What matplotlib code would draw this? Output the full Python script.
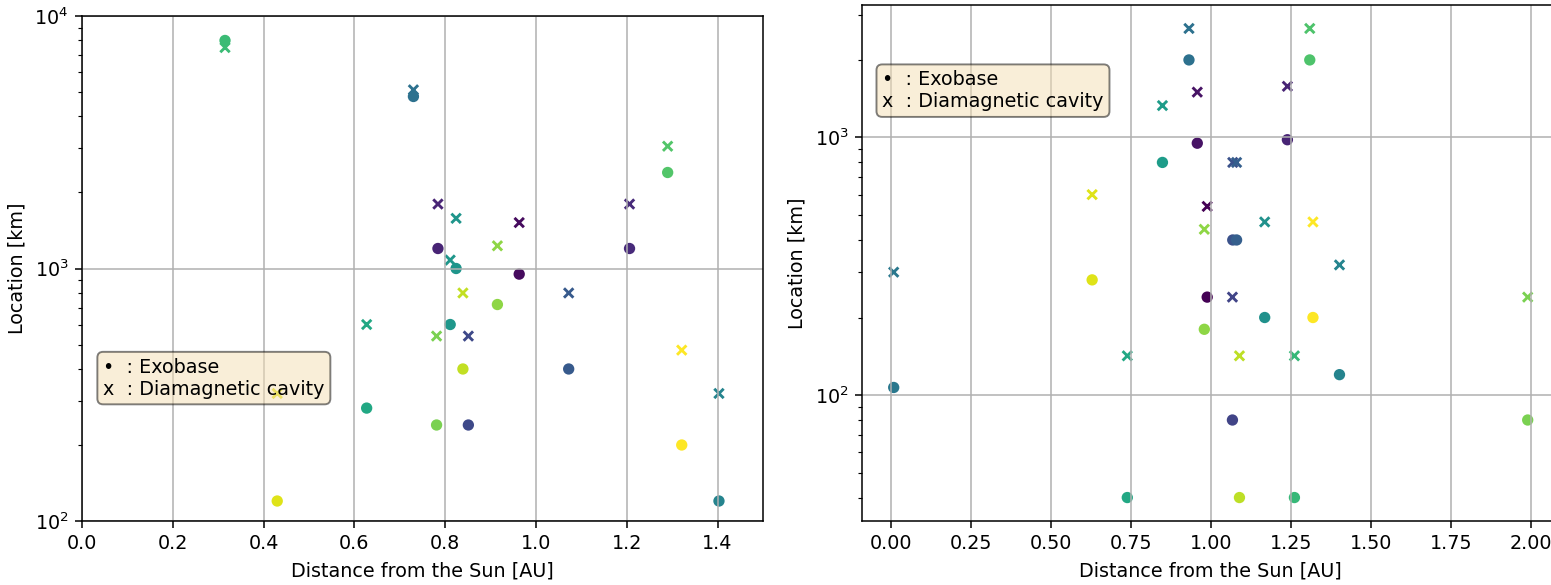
import numpy as np
import matplotlib
matplotlib.use('Agg')
import matplotlib.pyplot as plt

# Panel izquierdo: distancia al Sol [AU], exobase y cavidad diamagnetica [km]
dist_a = [0.315, 0.730, 1.290, 0.784, 1.206, 0.824, 0.963, 0.915, 0.811,
          0.839, 1.072, 0.627, 0.781, 0.851, 1.321, 0.430, 1.403]
exo_a = [8000, 4800, 2400, 1200, 1200, 1000, 950, 720, 600,
         400, 400, 280, 240, 240, 200, 120, 120]
dia_a = [7500, 5100, 3050, 1800, 1800, 1580, 1520, 1230, 1080,
         800, 800, 600, 540, 540, 475, 320, 320]
col_a = [0.68, 0.37, 0.73, 0.10, 0.12, 0.52, 0.03, 0.83, 0.53,
         0.91, 0.28, 0.60, 0.80, 0.22, 1.00, 0.95, 0.45]

# Panel derecho
dist_b = [0.931, 1.309, 0.957, 1.239, 0.848, 1.068, 1.080, 1.067, 0.628,
          0.988, 1.168, 1.319, 0.979, 1.402, 0.007, 0.738, 1.089, 1.261, 1.991]
exo_b = [2000, 2000, 950, 980, 800, 400, 400, 80, 280,
         240, 200, 200, 180, 120, 107, 40, 40, 40, 80]
dia_b = [2650, 2650, 1500, 1580, 1330, 800, 800, 240, 600,
         540, 470, 470, 440, 320, 300, 142, 142, 142, 240]
col_b = [0.37, 0.72, 0.05, 0.10, 0.55, 0.25, 0.30, 0.20, 0.95,
         0.00, 0.50, 1.00, 0.83, 0.45, 0.40, 0.60, 0.90, 0.67, 0.80]

leyenda = '•  : Exobase\nx  : Diamagnetic cavity'
props = dict(boxstyle='round', facecolor='wheat', alpha=0.5)

dpi = 138
W, H = 1551, 585
fig = plt.figure(figsize=(W/dpi, H/dpi), dpi=dpi)
ax1 = fig.add_axes([82/W, 1 - 521/H, 681/W, 505/H])
ax2 = fig.add_axes([862/W, 1 - 521/H, 697.4/W, 516/H])
tam = 24  # tamaño de marcador

# Izquierda
ax1.scatter(dist_a, dia_a, s=tam, c=col_a, cmap='viridis', vmin=0, vmax=1, marker='x')
ax1.scatter(dist_a, exo_a, s=tam, c=col_a, cmap='viridis', vmin=0, vmax=1, marker='o')
ax1.set_yscale('log')
ax1.set_ylim(100, 10000)
ax1.set_xlim(0, 1.5)
ax1.grid(True)
ax1.set_xlabel('Distance from the Sun [AU]')
ax1.set_ylabel('Location [km]')
ax1.text(0.031, 0.283, leyenda, transform=ax1.transAxes,
         verticalalignment='center', bbox=props)

# Derecha
ax2.scatter(dist_b, dia_b, s=tam, c=col_b, cmap='viridis', vmin=0, vmax=1, marker='x')
ax2.scatter(dist_b, exo_b, s=tam, c=col_b, cmap='viridis', vmin=0, vmax=1, marker='o')
ax2.set_yscale('log')
ax2.grid(True)
ax2.set_xlabel('Distance from the Sun [AU]')
ax2.set_ylabel('Location [km]')
ax2.text(0.029, 0.834, leyenda, transform=ax2.transAxes,
         verticalalignment='center', bbox=props)

plt.savefig('out.png', dpi=dpi)
